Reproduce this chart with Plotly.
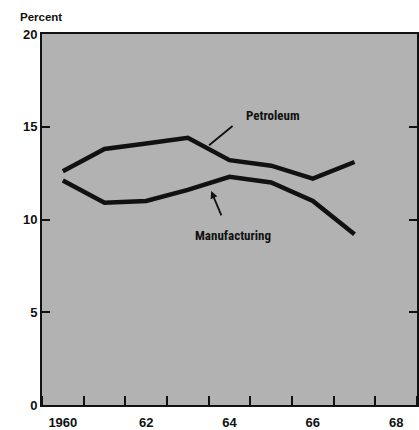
import plotly.graph_objects as go

years = [1960, 1961, 1962, 1963, 1964, 1965, 1966, 1967]
petroleum = [12.6, 13.8, 14.1, 14.4, 13.2, 12.9, 12.2, 13.1]
manufacturing = [12.1, 10.9, 11.0, 11.6, 12.3, 12.0, 11.0, 9.2]
x_tickvals = [1960, 1962, 1964, 1966, 1968]
x_ticktext = ["1960", "62", "64", "66", "68"]
y_tickvals = [0, 5, 10, 15, 20]
y_ticktext = ["0", "5", "10", "15", "20"]

fig = go.Figure()
fig.add_trace(go.Scatter(x=years, y=petroleum, mode="lines", name="Petroleum",
                         line=dict(color="#111111", width=4.5)))
fig.add_trace(go.Scatter(x=years, y=manufacturing, mode="lines", name="Manufacturing",
                         line=dict(color="#111111", width=4.5)))

label_font = dict(family="Liberation Sans Narrow, Roboto Condensed, Arial Narrow, sans-serif",
                  size=13, color="#111111", weight="bold")
fig.add_annotation(x=1965.04, y=15.6, text="Petroleum", showarrow=False, font=label_font)
fig.add_annotation(x=1963.51, y=14.0, ax=1964.11, ay=15.11, axref="x", ayref="y",
                   text="", showarrow=True, arrowhead=0, arrowwidth=1.8, arrowcolor="#111111")
fig.add_annotation(x=1964.08, y=9.12, text="Manufacturing", showarrow=False, font=label_font)
fig.add_annotation(x=1963.56, y=11.53, ax=1963.82, ay=10.14, axref="x", ayref="y",
                   text="", showarrow=True, arrowhead=2, arrowsize=0.8, arrowwidth=1.8,
                   arrowcolor="#111111")

fig.add_annotation(x=-0.065, y=1.045, xref="paper", yref="paper", text="<b>Percent</b>",
                   showarrow=False, xanchor="left", yanchor="middle",
                   font=dict(family="Liberation Sans", size=11.5, color="#111111"))

tick_font = dict(family="Liberation Sans", size=13, color="#111111", weight="bold")

fig.update_xaxes(range=[1959.5, 1968.5], tickvals=x_tickvals, ticktext=x_ticktext,
                 ticks="", showgrid=False, zeroline=False, showline=True, linecolor="#111111",
                 linewidth=2, mirror=True, tickfont=tick_font, ticklabelstandoff=4,
                 minor=dict(tick0=1960.5, dtick=1, ticks="inside", ticklen=9,
                            tickwidth=2, tickcolor="#111111", showgrid=False))
fig.update_yaxes(range=[0, 20], tickvals=y_tickvals, ticktext=y_ticktext,
                 ticks="inside", ticklen=8, tickwidth=1.5, tickcolor="#111111",
                 showgrid=False, zeroline=False, showline=True, linecolor="#111111",
                 linewidth=2, mirror="ticks", tickfont=tick_font)

fig.update_layout(width=419, height=430, margin=dict(l=42, r=0, t=34, b=22),
                  plot_bgcolor="#b2b2b2", paper_bgcolor="white", showlegend=False)

fig.write_html("out.html", config={"displayModeBar": False},
               post_script="document.body.style.margin='0';document.body.style.overflow='hidden';")
